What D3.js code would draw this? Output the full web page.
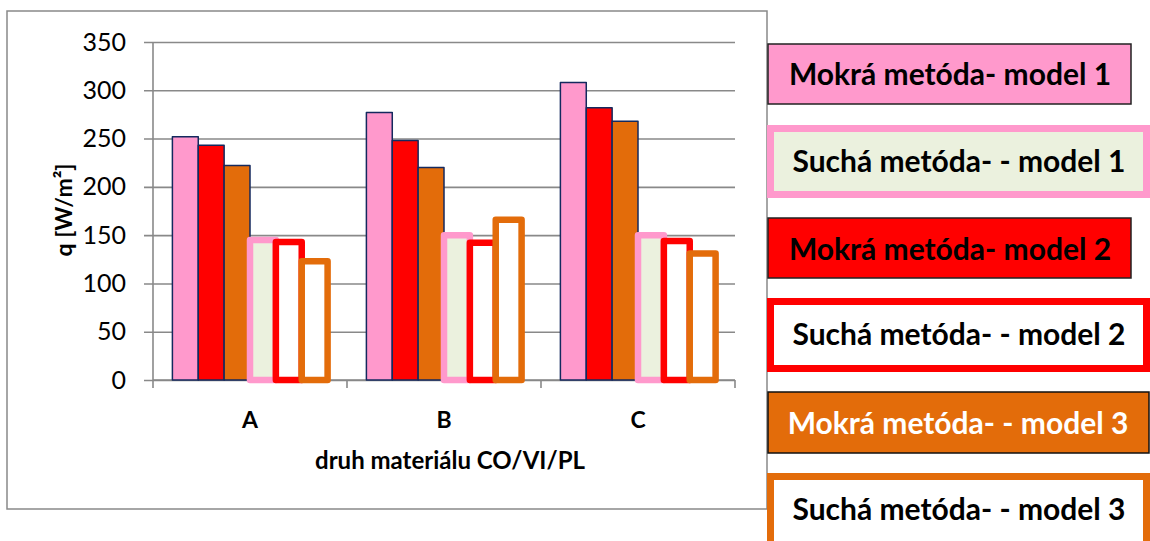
<!DOCTYPE html>
<html>
<head>
<meta charset="utf-8">
<script src="https://cdn.jsdelivr.net/npm/d3@7"></script>
<style>
  body { margin: 0; background: #fff; }
  svg { display: block; font-family: Lato, "Open Sans", sans-serif; }
</style>
</head>
<body>
<svg id="chart" width="1150" height="541"></svg>
<script>
const categories = ["A", "B", "C"];
const barKeys = ["wet1", "wet2", "wet3", "dry1", "dry2", "dry3"];
const legendKeys = ["wet1", "dry1", "wet2", "dry2", "wet3", "dry3"];
const seriesNames = {
  wet1: "Mokrá metóda- model 1",
  dry1: "Suchá metóda- - model 1",
  wet2: "Mokrá metóda- model 2",
  dry2: "Suchá metóda- - model 2",
  wet3: "Mokrá metóda- - model 3",
  dry3: "Suchá metóda- - model 3"
};
const wet1 = [252, 277, 308];
const wet2 = [243, 248, 282];
const wet3 = [222, 220, 268];
const dry1 = [145, 150, 150];
const dry2 = [143, 142, 144];
const dry3 = [123, 166, 131];
const yTicks = [0, 50, 100, 150, 200, 250, 300, 350];

const values = { wet1, wet2, wet3, dry1, dry2, dry3 };

// look of each series (Excel-ish colours)
const style = {
  wet1: { fill: "#FF99CC", stroke: "#14295E", sw: 1.5 },
  wet2: { fill: "#FF0000", stroke: "#14295E", sw: 1.5 },
  wet3: { fill: "#E36C0A", stroke: "#14295E", sw: 1.5 },
  dry1: { fill: "#EBF1DE", stroke: "#FF99CC", sw: 6.5 },
  dry2: { fill: "#FFFFFF", stroke: "#FF0000", sw: 6.5 },
  dry3: { fill: "#FFFFFF", stroke: "#E36C0A", sw: 6.5 }
};

const svg = d3.select("#chart");
const grey = "#898989";

// outer chart frame
svg.append("rect")
  .attr("x", 7).attr("y", 11)
  .attr("width", 760).attr("height", 498)
  .attr("fill", "#fff").attr("stroke", grey).attr("stroke-width", 1.5);

const plot = { left: 153, right: 735, top: 42, bottom: 380 };

const y = d3.scaleLinear().domain([0, 350]).range([plot.bottom, plot.top]);
const x0 = d3.scaleBand().domain(categories).range([plot.left, plot.right]);
const x1 = d3.scaleBand().domain(barKeys).range([0, x0.bandwidth()])
  .paddingInner(0).paddingOuter(0.75);

// gridlines + y labels
const yAxis = d3.axisLeft(y).tickValues(yTicks)
  .tickSize(-(plot.right - plot.left + 9)).tickPadding(18);
svg.append("g")
  .attr("transform", `translate(${plot.left - 9},0)`)
  .call(yAxis)
  .call((g) => g.select(".domain").remove())
  .call((g) => g.selectAll(".tick line").attr("stroke", grey).attr("stroke-width", 1.6))
  .call((g) => g.selectAll(".tick text")
    .attr("font-size", 25).attr("fill", "#000").attr("font-family", "Lato"));

// y axis line
svg.append("line")
  .attr("x1", plot.left).attr("x2", plot.left)
  .attr("y1", plot.top).attr("y2", plot.bottom)
  .attr("stroke", grey).attr("stroke-width", 1.6);

// x axis with boundary ticks
svg.append("line")
  .attr("x1", plot.left).attr("x2", plot.right)
  .attr("y1", plot.bottom).attr("y2", plot.bottom)
  .attr("stroke", grey).attr("stroke-width", 1.6);
const bounds = categories.map((c) => x0(c)).concat([plot.right]);
svg.append("g").selectAll("line")
  .data(bounds)
  .join("line")
  .attr("x1", (d) => d).attr("x2", (d) => d)
  .attr("y1", plot.bottom).attr("y2", plot.bottom + 8)
  .attr("stroke", grey).attr("stroke-width", 1.6);

// bars
const groups = svg.append("g").selectAll("g")
  .data(categories)
  .join("g")
  .attr("transform", (c) => `translate(${x0(c)},0)`);

groups.selectAll("rect")
  .data((c, i) => barKeys.map((k) => ({ key: k, value: values[k][i] })))
  .join("rect")
  .attr("x", (d) => x1(d.key))
  .attr("y", (d) => y(d.value))
  .attr("width", x1.bandwidth())
  .attr("height", (d) => y(0) - y(d.value))
  .attr("fill", (d) => style[d.key].fill)
  .attr("stroke", (d) => style[d.key].stroke)
  .attr("stroke-width", (d) => style[d.key].sw)
  .attr("stroke-linejoin", "round");

// category labels
svg.append("g").selectAll("text")
  .data(categories)
  .join("text")
  .attr("x", (c) => x0(c) + x0.bandwidth() / 2)
  .attr("y", 428)
  .attr("text-anchor", "middle")
  .attr("font-size", 23).attr("font-weight", "bold")
  .text((c) => c);

// axis titles
svg.append("text")
  .attr("x", 450).attr("y", 469)
  .attr("text-anchor", "middle")
  .attr("font-size", 24).attr("font-weight", "bold")
  .text("druh materiálu CO/VI/PL");

svg.append("text")
  .attr("transform", "translate(72,210) rotate(-90)")
  .attr("text-anchor", "middle")
  .attr("font-size", 23).attr("font-weight", "bold")
  .text("q [W/m²]");

// legend: separate boxes on the right
const legendBoxes = {
  wet1: { x: 768, y: 44, w: 363, h: 60, fill: "#FF99CC", stroke: "#222", sw: 1.5, text: "#000", ty: 85, tx: 950 },
  dry1: { x: 770.5, y: 128.5, w: 376, h: 66, fill: "#EBF1DE", stroke: "#FF99CC", sw: 7, text: "#000", ty: 172, tx: 959 },
  wet2: { x: 768, y: 218, w: 363, h: 60, fill: "#FF0000", stroke: "#222", sw: 1.5, text: "#000", ty: 260, tx: 950 },
  dry2: { x: 770.5, y: 301.5, w: 376, h: 67, fill: "#FFFFFF", stroke: "#FF0000", sw: 7, text: "#000", ty: 345, tx: 959 },
  wet3: { x: 768, y: 392, w: 381, h: 61, fill: "#E36C0A", stroke: "#111", sw: 1.5, text: "#fff", ty: 434, tx: 958 },
  dry3: { x: 770.5, y: 476.5, w: 376, h: 70, fill: "#FFFFFF", stroke: "#E36C0A", sw: 7, text: "#000", ty: 520, tx: 959 }
};

const legend = svg.append("g").selectAll("g")
  .data(legendKeys)
  .join("g");

legend.append("rect")
  .attr("x", (k) => legendBoxes[k].x)
  .attr("y", (k) => legendBoxes[k].y)
  .attr("width", (k) => legendBoxes[k].w)
  .attr("height", (k) => legendBoxes[k].h)
  .attr("fill", (k) => legendBoxes[k].fill)
  .attr("stroke", (k) => legendBoxes[k].stroke)
  .attr("stroke-width", (k) => legendBoxes[k].sw);

legend.append("text")
  .attr("x", (k) => legendBoxes[k].tx)
  .attr("y", (k) => legendBoxes[k].ty)
  .attr("text-anchor", "middle")
  .attr("font-size", 30).attr("font-weight", "bold")
  .attr("fill", (k) => legendBoxes[k].text)
  .text((k) => seriesNames[k]);
</script>
</body>
</html>
